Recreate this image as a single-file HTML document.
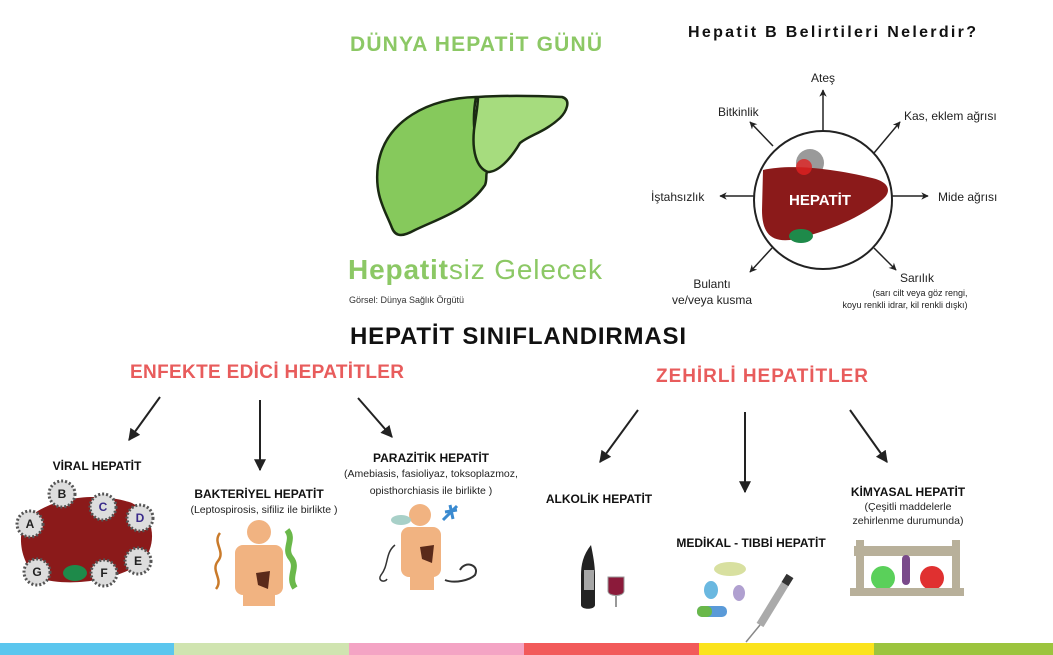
<!DOCTYPE html>
<html><head><meta charset="utf-8"><style>
html,body{margin:0;padding:0;background:#fff;}
svg{display:block;font-family:"Liberation Sans","DejaVu Sans",sans-serif;}
</style></head><body>
<svg width="1053" height="655" viewBox="0 0 1053 655" xmlns="http://www.w3.org/2000/svg">
<defs>
<marker id="ah" viewBox="0 0 10 10" refX="9" refY="5" markerWidth="6" markerHeight="6" orient="auto"><path d="M0,0 L10,5 L0,10 z" fill="#222"/></marker>
<marker id="ah2" viewBox="0 0 10 10" refX="9" refY="5" markerWidth="5" markerHeight="5" orient="auto"><path d="M0,0 L10,5 L0,10 L3,5 z" fill="#222"/></marker>
</defs>
<rect width="1053" height="655" fill="#fff"/>
<text x="476" y="51" text-anchor="middle" font-size="21" font-weight="bold" fill="#8cc865" textLength="252">DÜNYA HEPATİT GÜNÜ</text>
<path d="M476,97 C430,98 385,120 378,165 C374,195 385,210 392,228 C396,238 404,236 415,230 C440,218 468,210 485,185 C488,178 484,170 490,172 C478,160 470,130 476,97 Z" fill="#86c95c" stroke="#1a2a12" stroke-width="2.5"/>
<path d="M478,97 C510,95 540,96 562,97 C572,100 566,112 560,118 C545,132 530,135 520,143 C510,160 498,172 488,172 C476,168 472,150 474,130 C476,115 478,105 478,97 Z" fill="#a6dc7e" stroke="#1a2a12" stroke-width="2.5"/>
<text x="348" y="279" font-size="28" fill="#8cc865" textLength="254"><tspan font-weight="bold">Hepatit</tspan>siz Gelecek</text>
<text x="349" y="303" font-size="9" fill="#333">Görsel: Dünya Sağlık Örgütü</text>
<text x="832" y="37" text-anchor="middle" font-size="16" font-weight="bold" fill="#111" textLength="288">Hepatit B Belirtileri Nelerdir?</text>
<circle cx="823" cy="200" r="69" fill="#fff" stroke="#222" stroke-width="2"/>
<g stroke="#222" stroke-width="1.5" fill="none">
<line x1="823" y1="131" x2="823" y2="90" marker-end="url(#ah2)"/>
<line x1="874" y1="153" x2="900" y2="122" marker-end="url(#ah2)"/>
<line x1="892" y1="196" x2="928" y2="196" marker-end="url(#ah2)"/>
<line x1="874" y1="248" x2="896" y2="270" marker-end="url(#ah2)"/>
<line x1="772" y1="248" x2="750" y2="272" marker-end="url(#ah2)"/>
<line x1="754" y1="196" x2="720" y2="196" marker-end="url(#ah2)"/>
<line x1="773" y1="146" x2="750" y2="122" marker-end="url(#ah2)"/>
</g>
<circle cx="810" cy="163" r="14" fill="#9a9a9a"/>
<path d="M763,170 C790,164 830,168 872,178 C890,182 892,192 882,200 C862,216 830,232 790,240 C770,242 762,232 762,210 Z" fill="#8b1a1a"/>
<ellipse cx="801" cy="236" rx="12" ry="7" fill="#1e8a4a"/>
<circle cx="804" cy="167" r="8" fill="#e02020" opacity="0.8"/>
<text x="820" y="205" text-anchor="middle" font-size="15" font-weight="bold" fill="#fff">HEPATİT</text>
<g font-size="12" fill="#222">
<text x="823" y="82" text-anchor="middle">Ateş</text>
<text x="718" y="116">Bitkinlik</text>
<text x="904" y="120">Kas, eklem ağrısı</text>
<text x="938" y="201">Mide ağrısı</text>
<text x="651" y="201">İştahsızlık</text>
<text x="712" y="288" text-anchor="middle">Bulantı</text>
<text x="712" y="304" text-anchor="middle">ve/veya kusma</text>
<text x="900" y="282">Sarılık</text>
</g>
<text x="920" y="296" text-anchor="middle" font-size="9" fill="#222">(sarı cilt veya göz rengi,</text>
<text x="905" y="308" text-anchor="middle" font-size="9" fill="#222">koyu renkli idrar, kil renkli dışkı)</text>
<text x="518" y="344" text-anchor="middle" font-size="24" font-weight="bold" fill="#111" textLength="336">HEPATİT SINIFLANDIRMASI</text>
<text x="267" y="378" text-anchor="middle" font-size="19" font-weight="bold" fill="#e85c5c" textLength="274">ENFEKTE EDİCİ HEPATİTLER</text>
<text x="762" y="382" text-anchor="middle" font-size="19" font-weight="bold" fill="#e85c5c" textLength="212">ZEHİRLİ HEPATİTLER</text>
<g stroke="#222" stroke-width="2" fill="none">
<line x1="160" y1="397" x2="129" y2="440" marker-end="url(#ah)"/>
<line x1="260" y1="400" x2="260" y2="470" marker-end="url(#ah)"/>
<line x1="358" y1="398" x2="392" y2="437" marker-end="url(#ah)"/>
<line x1="638" y1="410" x2="600" y2="462" marker-end="url(#ah)"/>
<line x1="745" y1="412" x2="745" y2="492" marker-end="url(#ah)"/>
<line x1="850" y1="410" x2="887" y2="462" marker-end="url(#ah)"/>
</g>
<g font-weight="bold" fill="#111" text-anchor="middle">
<text x="97" y="470" font-size="12">VİRAL HEPATİT</text>
<text x="259" y="498" font-size="12">BAKTERİYEL HEPATİT</text>
<text x="431" y="462" font-size="12">PARAZİTİK HEPATİT</text>
<text x="599" y="503" font-size="12">ALKOLİK HEPATİT</text>
<text x="751" y="547" font-size="12">MEDİKAL - TIBBİ HEPATİT</text>
<text x="908" y="496" font-size="12">KİMYASAL HEPATİT</text>
</g>
<g font-size="10.5" fill="#222" text-anchor="middle">
<text x="264" y="513">(Leptospirosis, sifiliz ile birlikte )</text>
<text x="431" y="477">(Amebiasis, fasioliyaz, toksoplazmoz,</text>
<text x="431" y="494">opisthorchiasis ile birlikte )</text>
<text x="908" y="510">(Çeşitli maddelerle</text>
<text x="908" y="524">zehirlenme durumunda)</text>
</g>
<path d="M24,522 C50,495 100,492 132,503 C155,515 158,545 142,562 C120,580 70,588 38,578 C20,562 18,538 24,522 Z" fill="#8b1a1a"/>
<g fill="#ddd" stroke="#555" stroke-width="3" stroke-dasharray="2 2">
<circle cx="62" cy="494" r="13"/><circle cx="103" cy="507" r="13"/><circle cx="140" cy="518" r="13"/>
<circle cx="30" cy="524" r="13"/><circle cx="138" cy="561" r="13"/><circle cx="104" cy="573" r="13"/><circle cx="37" cy="572" r="13"/>
</g>
<ellipse cx="75" cy="573" rx="12" ry="8" fill="#1e8a4a"/>
<g font-size="12" font-weight="bold" fill="#222" text-anchor="middle">
<text x="62" y="498">B</text><text x="103" y="511" fill="#3a2a8a">C</text><text x="140" y="522" fill="#3a2a8a">D</text>
<text x="30" y="528">A</text><text x="138" y="565">E</text><text x="104" y="577">F</text><text x="37" y="576">G</text>
</g>
<g fill="#f1b381">
<circle cx="259" cy="532" r="12"/><rect x="235" y="545" width="48" height="50" rx="8"/><rect x="243" y="590" width="32" height="16"/>
</g>
<path d="M220,533 c-8,10 6,18 -2,28 c-8,10 6,18 -2,28" stroke="#c97a2a" stroke-width="2.5" fill="none"/>
<path d="M287,530 c8,10 -4,18 4,28 c8,10 -4,18 4,30" stroke="#6ab84a" stroke-width="6" fill="none"/>
<path d="M256,573 l14,-2 l-2,18 l-10,-4 z" fill="#5a2a1a"/>
<g fill="#f1b381">
<circle cx="420" cy="515" r="11"/><rect x="401" y="527" width="40" height="50" rx="8"/><rect x="410" y="572" width="24" height="18"/>
</g>
<ellipse cx="401" cy="520" rx="10" ry="5" fill="#a8d0c8"/>
<path d="M445,512 l12,-2 M450,505 l3,14 M443,520 l14,-14" stroke="#3a8ad0" stroke-width="3"/>
<path d="M420,547 l14,-2 l-2,18 l-10,-4 z" fill="#5a2a1a"/>
<path d="M395,545 c-10,8 -6,20 -14,30 c-4,6 4,8 6,4" stroke="#333" stroke-width="1.5" fill="none"/>
<path d="M445,580 c10,4 25,0 30,-5 c5,-10 -10,-15 -15,-5" stroke="#333" stroke-width="2" fill="none"/>
<path d="M591,525 l0,20 c-8,10 -10,20 -10,30 l0,30 c0,5 14,5 14,0 l0,-30 c0,-10 -2,-20 -4,-30 z" fill="#222"/>
<rect x="584" y="570" width="10" height="20" fill="#fff" opacity="0.6"/>
<path d="M608,577 l16,0 l0,14 c0,6 -16,6 -16,0 z" fill="#8b1a3a" stroke="#999"/>
<line x1="616" y1="596" x2="616" y2="607" stroke="#999" stroke-width="2"/>
<ellipse cx="730" cy="569" rx="16" ry="7" fill="#d8e0a0"/>
<ellipse cx="711" cy="590" rx="7" ry="9" fill="#6ab8e0"/>
<ellipse cx="739" cy="593" rx="6" ry="8" fill="#b0a0d0"/>
<rect x="697" y="606" width="30" height="11" rx="5" fill="#5a9ad8"/><rect x="697" y="606" width="15" height="11" rx="5" fill="#6ab84a"/>
<line x1="790" y1="576" x2="760" y2="625" stroke="#aaa" stroke-width="8"/>
<line x1="760" y1="625" x2="746" y2="642" stroke="#888" stroke-width="1.5"/>
<line x1="790" y1="576" x2="785" y2="584" stroke="#333" stroke-width="8"/>
<rect x="856" y="540" width="8" height="55" fill="#b8b09a"/><rect x="952" y="540" width="8" height="55" fill="#b8b09a"/>
<rect x="854" y="546" width="106" height="10" fill="#b8b09a"/>
<circle cx="883" cy="578" r="12" fill="#5ad05a"/><rect x="902" y="555" width="8" height="30" rx="4" fill="#7a4a8a"/><circle cx="932" cy="578" r="12" fill="#e03030"/>
<rect x="850" y="588" width="114" height="8" fill="#b8b09a"/>
<rect x="0" y="643" width="174" height="12" fill="#5bc6ee"/>
<rect x="174" y="643" width="175" height="12" fill="#d0e4b0"/>
<rect x="349" y="643" width="175" height="12" fill="#f4a4c4"/>
<rect x="524" y="643" width="175" height="12" fill="#f25a5a"/>
<rect x="699" y="643" width="175" height="12" fill="#fbe31c"/>
<rect x="874" y="643" width="179" height="12" fill="#9cc43e"/>
</svg>
</body></html>
